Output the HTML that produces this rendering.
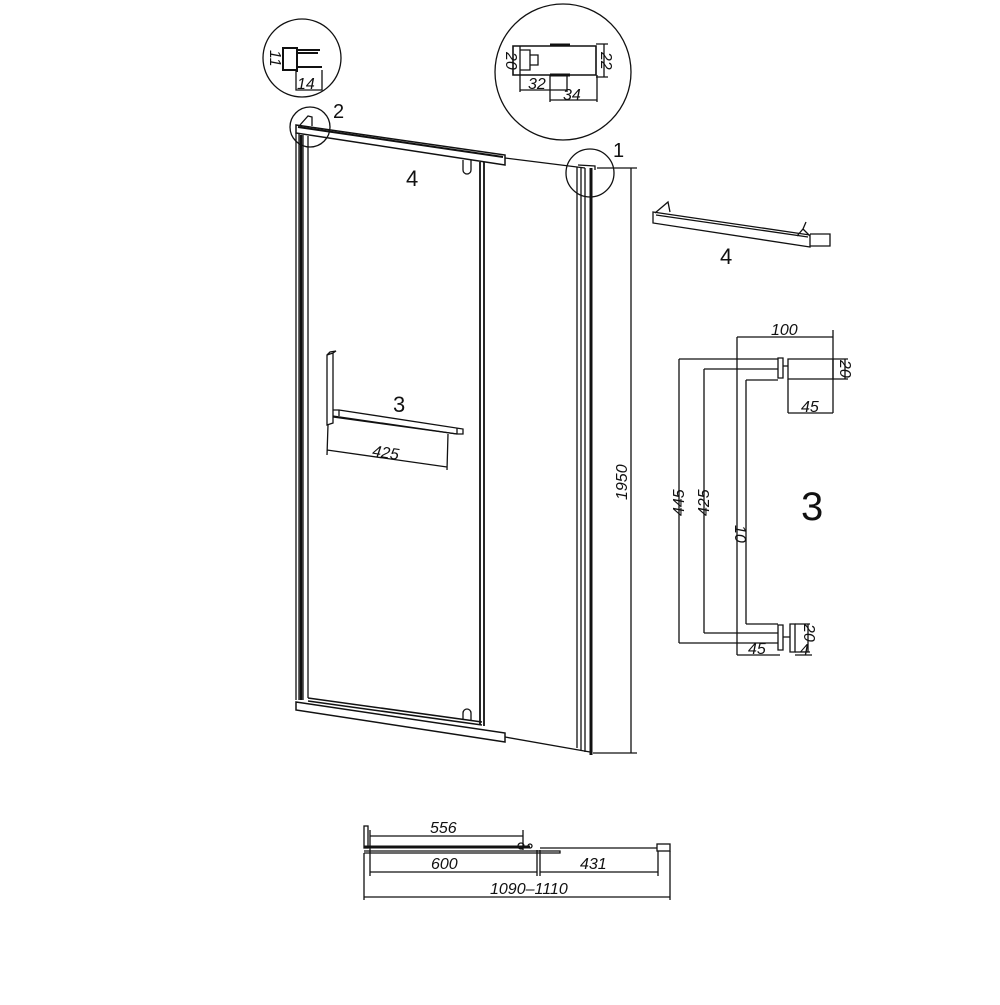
<!DOCTYPE html>
<html><head><style>
html,body{margin:0;padding:0;background:#fff}
svg text{font-family:"Liberation Sans",sans-serif;fill:#111;stroke:none}
.d{font-style:italic;font-size:16px}
</style></head><body>
<svg width="1000" height="1000" viewBox="0 0 1000 1000" xmlns="http://www.w3.org/2000/svg" fill="none" stroke="#111" stroke-width="1.3">
<circle cx="302" cy="58" r="39"/>
<circle cx="563" cy="72" r="68"/>
<circle cx="310" cy="127" r="20"/>
<circle cx="590" cy="173" r="24"/>
<path d="M283 48 H297 V70 H283 Z M297 50 H320 M297 53 H318 M297 67 H322 M297 48 V72" stroke-width="2"/>
<path d="M296 70 V90 H322 V70"/>
<text class="d" x="297" y="89" font-size="18">14</text>
<text class="d" transform="translate(270,50) rotate(90)" font-size="14">11</text>
<path d="M513 46 H596 V75 H513 Z" stroke-width="1.6"/>
<path d="M520 46 V75 M520 50 H530 V70 H520 M530 55 H538 V65 H530" />
<path d="M550 45 H570 M550 75 H570" stroke-width="3"/>
<path d="M596 44 H608 M596 77 H608 M604 44 V77 M520 75 V92 M567 75 V92 M520 90 H567 M550 75 V102 M597 75 V102 M550 100 H597"/>
<text class="d" x="528" y="89" font-size="17">32</text>
<text class="d" x="563" y="100" font-size="17">34</text>
<text class="d" transform="translate(506,52) rotate(90)" font-size="14">20</text>
<text class="d" transform="translate(601,52) rotate(90)" font-size="14">22</text>
<text x="333" y="118" font-size="20">2</text>
<text x="613" y="157" font-size="20">1</text>
<text x="406" y="186" font-size="22">4</text>
<text x="393" y="412" font-size="22">3</text>
<text x="720" y="264" font-size="22">4</text>
<text x="801" y="520" font-size="40">3</text>
<path d="M296 125 L505 155 L505 165 L296 133 Z" stroke-width="1.5"/>
<path d="M298 127 L503 157" stroke-width="2"/>
<path d="M300 125 L308 116 L312 117 L312 126"/>
<path d="M505 158 L585 168" />
<path d="M463 160 V170 A4 4 0 0 0 471 170 V160"/>
<path d="M296 133 V700 M299 134 V700 M303 135 V700 M308 136 V698" />
<path d="M301 135 V700" stroke-width="2.5"/>
<path d="M480 162 V725 M484 162 V726" stroke-width="1.8"/>
<path d="M577 167 V748 M581 167 V750 M585 168 V752" />
<path d="M591 168 V755" stroke-width="3"/>
<path d="M578 165 L595 166 L595 170" />
<path d="M296 702 L505 733 L505 742 L296 710 Z" stroke-width="1.5"/>
<path d="M308 698 L482 722 M308 701 L482 725" stroke-width="1.5"/>
<path d="M463 720 V713 A4 4 0 0 1 471 713 V721"/>
<path d="M505 737 L590 752"/>
<path d="M597 168 H637 M631 168 V753 M593 753 H637"/>
<text class="d" transform="translate(627,500) rotate(-90)" font-size="18">1950</text>
<path d="M327 355 L333 353 L333 423 L327 425 Z M327 355 L330 352 L336 351 L333 353"/>
<path d="M333 410 L339 410 L463 429 L463 434 L457 434 L333 417"/>
<path d="M339 410 L339 416 M457 428 L457 434 M333 416 L457 434"/>
<path d="M328 425 L327 455 M448 434 L447 470 M327 450 L447 467"/>
<text class="d" x="372" y="458" font-size="17" transform="rotate(8 385 455)">425</text>
<path d="M653 212 L810 235 L810 247 L653 223 Z"/>
<path d="M655 213 L668 202 L670 212 M656 215 L808 237"/>
<path d="M797 236 L803 229 L810 236 M803 229 L806 222"/>
<path d="M810 234 H830 V246 H810"/>
<path d="M679 359 V643 M679 359 H778 M679 643 H778"/>
<path d="M704 369 V633 M704 369 H778 M704 633 H778"/>
<path d="M746 380 V624 M746 380 H778 M746 624 H778"/>
<path d="M778 358 H783 V378 H778 Z M778 625 H783 V650 H778 Z M783 366 H788 M783 637 H790"/>
<path d="M788 359 H833 V379 H788 Z M790 624 H795 V652 H790 Z"/>
<path d="M737 337 V655 M833 330 V413 M737 337 H833 M788 379 V413 M788 413 H833"/>
<path d="M833 359 H848 M833 379 H848 M845 359 V379 M795 624 H810 M795 652 H810 M808 624 V652"/>
<path d="M737 655 H780 M795 655 H812"/>
<text class="d" x="771" y="335" font-size="17">100</text>
<text class="d" x="801" y="412" font-size="17">45</text>
<text class="d" x="748" y="654" font-size="17">45</text>
<text class="d" x="800" y="655" font-size="17">4</text>
<text class="d" transform="translate(840,360) rotate(90)" font-size="15">20</text>
<text class="d" transform="translate(804,624) rotate(90)" font-size="15">20</text>
<text class="d" transform="translate(684,516) rotate(-90)" font-size="17">445</text>
<text class="d" transform="translate(709,516) rotate(-90)" font-size="17">425</text>
<text class="d" transform="translate(735,525) rotate(90)" font-size="14">10</text>
<rect x="364" y="826" width="4" height="22"/>
<path d="M364 847 H530" stroke-width="3"/>
<path d="M364 851 H560 V853 H364 M540 848 H657" stroke-width="1.3"/>
<circle cx="521" cy="846" r="3"/><circle cx="530" cy="846" r="2"/>
<rect x="657" y="844" width="13" height="7"/>
<path d="M370 830 V876 M523 830 V850 M370 836 H523 M537 850 V876 M540 850 V876 M658 851 V876 M370 872 H537 M540 872 H658 M364 853 V900 M670 851 V900 M364 897 H670"/>
<text class="d" x="430" y="833" font-size="19">556</text>
<text class="d" x="431" y="869" font-size="19">600</text>
<text class="d" x="580" y="869" font-size="19">431</text>
<text class="d" x="490" y="894" font-size="19">1090–1110</text>
</svg>
</body></html>
